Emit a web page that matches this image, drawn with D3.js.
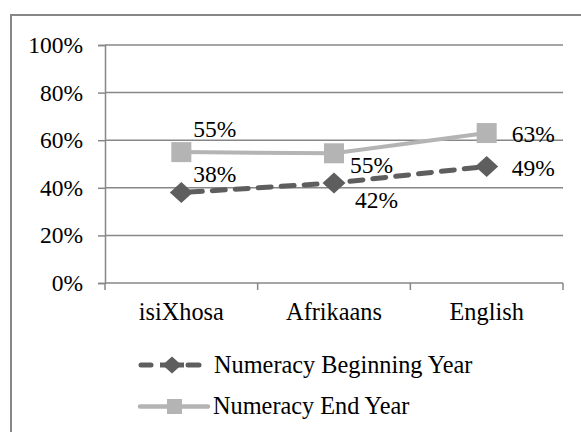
<!DOCTYPE html>
<html>
<head>
<meta charset="utf-8">
<script src="https://cdn.jsdelivr.net/npm/d3@7"></script>
<style>
  html, body { margin: 0; padding: 0; background: #fff; }
  svg { display: block; }
</style>
</head>
<body>
<svg id="chart" width="581" height="432" font-family="'Liberation Serif', 'Times New Roman', serif"></svg>
<script>
// Numeracy scores by language of learning
const categories = ["isiXhosa", "Afrikaans", "English"];
const beginningYear = [0.38, 0.42, 0.49];
const endYear = [0.55, 0.545, 0.63];
const beginningLabels = ["38%", "42%", "49%"];
const endLabels = ["55%", "55%", "63%"];
const yTicks = [0, 0.2, 0.4, 0.6, 0.8, 1.0];
const seriesNames = ["Numeracy Beginning Year", "Numeracy End Year"];

const svg = d3.select("#chart");
const FONT = "'Liberation Serif', 'Times New Roman', serif";
const FONT_SIZE = 23.5;
const LABEL_SIZE = 24.3;
const axisColor = "#878787";
const darkGray = "#5e5e5e";
const lightGray = "#b4b4b4";

function styleText(sel, size = FONT_SIZE) {
  sel.attr("font-family", FONT)
    .attr("font-size", size)
    .attr("fill", "#000")
    .style("font-family", FONT)
    .style("font-size", size + "px");
}

// diamond marker path centred on the origin
function diamondPath(hw, hh) {
  const p = d3.path();
  p.moveTo(0, -hh); p.lineTo(hw, 0); p.lineTo(0, hh); p.lineTo(-hw, 0); p.closePath();
  return p.toString();
}

// outer frame
svg.append("rect")
  .attr("x", 11).attr("y", 15)
  .attr("width", 600).attr("height", 500)
  .attr("fill", "none").attr("stroke", axisColor).attr("stroke-width", 2);

const plot = { left: 105, right: 563, top: 45, bottom: 283 };

const x = d3.scaleBand().domain(categories).range([plot.left, plot.right]).padding(0);
const y = d3.scaleLinear().domain([0, 1]).range([plot.bottom, plot.top]);
const cx = d => x(d) + x.bandwidth() / 2;

// gridlines
svg.append("g").selectAll("line").data(yTicks.filter(t => t > 0)).join("line")
  .attr("x1", plot.left).attr("x2", plot.right)
  .attr("y1", d => y(d)).attr("y2", d => y(d))
  .attr("stroke", axisColor).attr("stroke-width", 1.5);

// y axis
const yAxis = svg.append("g").attr("transform", `translate(${plot.left},0)`)
  .call(d3.axisLeft(y).tickValues(yTicks).tickFormat(d3.format(".0%")).tickSize(7).tickPadding(15));
yAxis.attr("font-family", FONT).attr("font-size", FONT_SIZE);
yAxis.select(".domain").attr("stroke", axisColor).attr("stroke-width", 1.5);
yAxis.selectAll(".tick line").attr("stroke", axisColor).attr("stroke-width", 1.5);
yAxis.selectAll(".tick text").call(styleText);

// x axis with ticks at category boundaries
const xAxisG = svg.append("g");
xAxisG.append("line")
  .attr("x1", plot.left).attr("x2", plot.right)
  .attr("y1", plot.bottom).attr("y2", plot.bottom)
  .attr("stroke", axisColor).attr("stroke-width", 1.5);
const boundaries = categories.map(c => x(c)).concat([plot.right]);
xAxisG.selectAll("line.tk").data(boundaries).join("line").attr("class", "tk")
  .attr("x1", d => d).attr("x2", d => d)
  .attr("y1", plot.bottom).attr("y2", plot.bottom + 7)
  .attr("stroke", axisColor).attr("stroke-width", 1.5);
xAxisG.selectAll("text").data(categories).join("text")
  .attr("x", d => cx(d)).attr("y", 320)
  .attr("text-anchor", "middle")
  .call(styleText, LABEL_SIZE)
  .text(d => d);

const line = d3.line().x((d, i) => cx(categories[i])).y(d => y(d));

// end year series: solid light line with square markers
svg.append("path").datum(endYear)
  .attr("d", line).attr("fill", "none")
  .attr("stroke", lightGray).attr("stroke-width", 4);
svg.append("g").selectAll("rect").data(endYear).join("rect")
  .attr("x", (d, i) => cx(categories[i]) - 10)
  .attr("y", d => y(d) - 10)
  .attr("width", 20).attr("height", 20)
  .attr("fill", lightGray);

// beginning year series: dashed dark line with diamond markers
svg.append("path").datum(beginningYear)
  .attr("d", line).attr("fill", "none")
  .attr("stroke", darkGray).attr("stroke-width", 5)
  .attr("stroke-dasharray", "13 10").attr("stroke-dashoffset", -8)
  .attr("stroke-linecap", "round");
svg.append("g").selectAll("path").data(beginningYear).join("path")
  .attr("transform", (d, i) => `translate(${cx(categories[i])},${y(d)})`)
  .attr("d", diamondPath(11.5, 10.5))
  .attr("fill", darkGray);

// data labels
const beginOffsets = [[12, -11], [21, 25], [25, 9.5]];
const endOffsets = [[12, -15.5], [16, 20], [25, 9]];
svg.append("g").selectAll("text").data(beginningYear).join("text")
  .attr("x", (d, i) => cx(categories[i]) + beginOffsets[i][0])
  .attr("y", (d, i) => y(d) + beginOffsets[i][1])
  .call(styleText)
  .text((d, i) => beginningLabels[i]);
svg.append("g").selectAll("text").data(endYear).join("text")
  .attr("x", (d, i) => cx(categories[i]) + endOffsets[i][0])
  .attr("y", (d, i) => y(d) + endOffsets[i][1])
  .call(styleText)
  .text((d, i) => endLabels[i]);

// legend
const legend = svg.append("g");
const ly = [365, 406.5];
// beginning year entry: two dashes around a diamond
[[141, 151], [188, 199]].forEach(([a, b]) => {
  legend.append("line")
    .attr("x1", a).attr("x2", b).attr("y1", ly[0]).attr("y2", ly[0])
    .attr("stroke", darkGray).attr("stroke-width", 5).attr("stroke-linecap", "round");
});
legend.append("line")
  .attr("x1", 160).attr("x2", 184).attr("y1", ly[0]).attr("y2", ly[0])
  .attr("stroke", darkGray).attr("stroke-width", 5);
legend.append("path")
  .attr("transform", `translate(172,${ly[0]})`)
  .attr("d", diamondPath(9.5, 8.5))
  .attr("fill", darkGray);
legend.append("text").attr("x", 214).attr("y", 373)
  .call(styleText, LABEL_SIZE).text(seriesNames[0]);
// end year entry
legend.append("line")
  .attr("x1", 140).attr("x2", 208).attr("y1", ly[1]).attr("y2", ly[1])
  .attr("stroke", lightGray).attr("stroke-width", 4.5).attr("stroke-linecap", "round");
legend.append("rect")
  .attr("x", 167).attr("y", ly[1] - 7.5).attr("width", 15).attr("height", 15)
  .attr("fill", lightGray);
legend.append("text").attr("x", 213).attr("y", 414)
  .call(styleText, LABEL_SIZE).text(seriesNames[1]);
</script>
</body>
</html>
